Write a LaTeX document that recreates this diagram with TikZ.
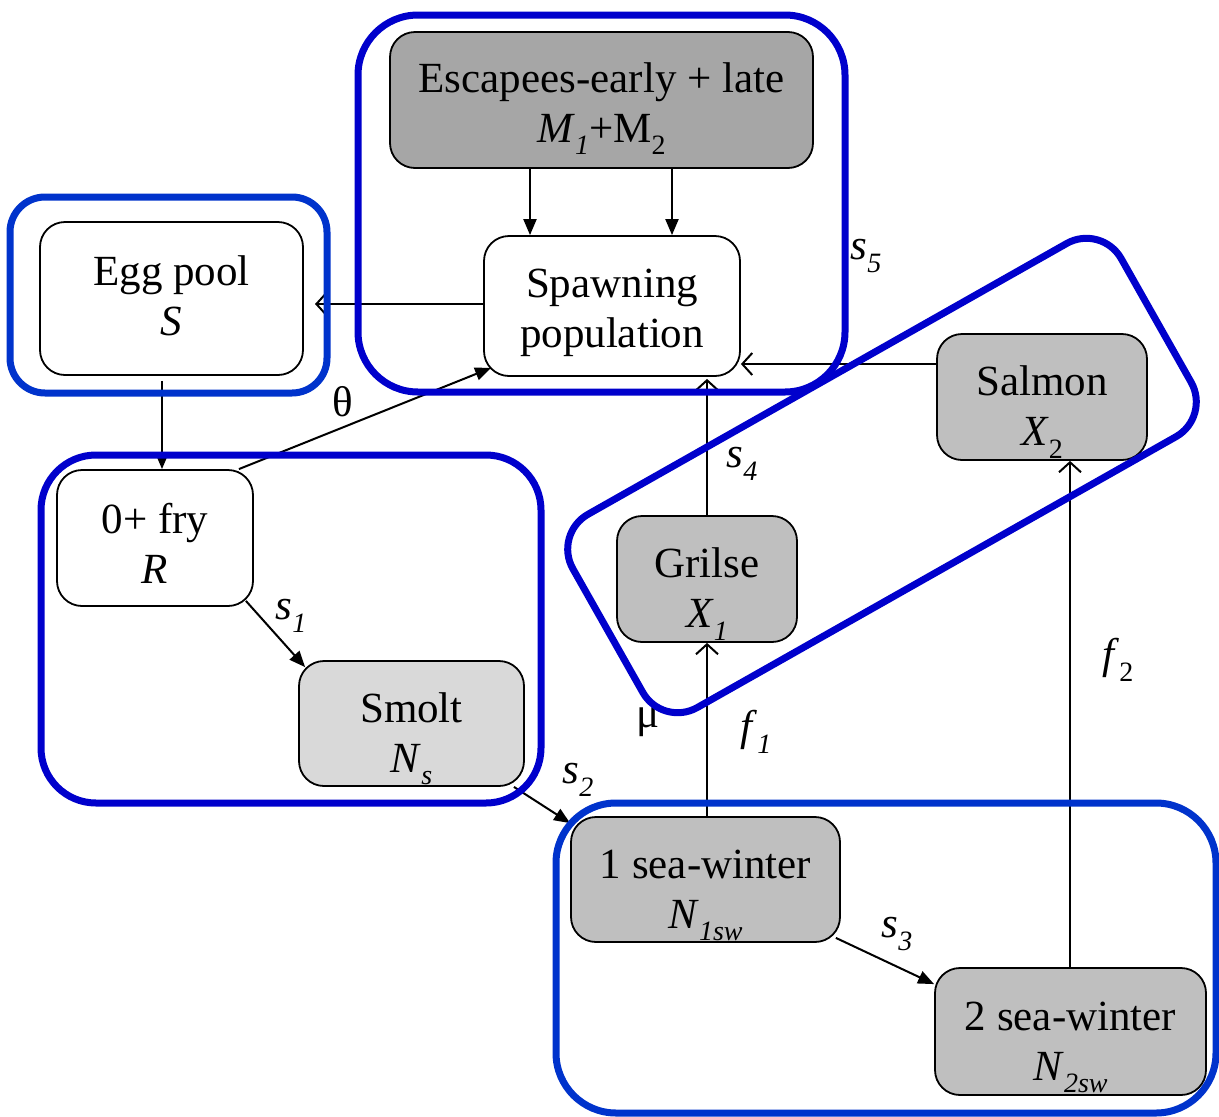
\documentclass[tikz,border=0pt]{standalone}
\usepackage{fontspec}
\setmainfont{Liberation Serif}
\usetikzlibrary{arrows.meta}
\definecolor{blueA}{RGB}{0,0,204}
\definecolor{blueB}{RGB}{0,51,204}
\definecolor{gDark}{RGB}{166,166,166}
\definecolor{gMid}{RGB}{191,191,191}
\definecolor{gLight}{RGB}{217,217,217}
\newcommand{\sbs}[1]{\raisebox{-0.3em}[0pt][0pt]{\fontsize{28}{28}\selectfont #1}}
\newcommand{\twol}[3]{\raisebox{#3}[0pt][0pt]{\begin{tabular}[b]{@{}c@{}}#1\\#2\end{tabular}}}
\begin{document}
\begin{tikzpicture}[x=1pt,y=-1pt,
  box/.style={draw=black, line width=1.8pt, rounded corners=25pt, inner sep=0pt, font=\fontsize{43}{50}\selectfont},
  grp/.style={line width=7pt},
  fillarr/.style={line width=2pt, -{Triangle[length=16pt,width=13pt]}},
  openarr/.style={line width=2pt, -{Straight Barb[length=10pt,width=22pt,line width=2pt]}},
  lbl/.style={font=\fontsize{43}{50}\selectfont, inner sep=0pt}
]
\useasboundingbox (0,0) rectangle (1219,1117);
\fill[white] (0,0) rectangle (1219,1117);

% nodes
\node[box, fill=gDark, minimum width=423pt, minimum height=136pt] (esc) at (601.5,100) {\twol{Escapees-early + late}{\textit{M}\sbs{\textit{1}}+M\sbs{2}}{-42pt}};
\node[box, fill=white, minimum width=256pt, minimum height=140pt] (spawn) at (612,306) {\twol{Spawning}{population}{-41pt}};
\node[box, fill=white, minimum width=263pt, minimum height=153pt] (egg) at (171.5,298.5) {\twol{Egg pool}{\textit{S}}{-36.5pt}};
\node[box, fill=white, minimum width=196pt, minimum height=136pt] (fry) at (155,538) {\twol{0+ fry}{\textit{R}}{-45pt}};
\node[box, fill=gLight, minimum width=225pt, minimum height=125pt] (smolt) at (411.5,723.5) {\twol{Smolt}{\textit{N}\sbs{\textit{s}}}{-48.5pt}};
\node[box, fill=gMid, minimum width=180pt, minimum height=126pt] (grilse) at (707,579) {\twol{Grilse}{\textit{X}\sbs{\textit{1}}}{-48.5pt}};
\node[box, fill=gMid, minimum width=210pt, minimum height=126pt] (salmon) at (1042,397) {\twol{Salmon}{\textit{X}\sbs{2}}{-48.5pt}};
\node[box, fill=gMid, minimum width=269pt, minimum height=125pt] (sw1) at (705.5,879.5) {\twol{1 sea-winter}{\textit{N}\sbs{\textit{1sw}}}{-48.5pt}};
\node[box, fill=gMid, minimum width=271pt, minimum height=127pt] (sw2) at (1070.5,1031.5) {\twol{2 sea-winter}{\textit{N}\sbs{\textit{2sw}}}{-48.5pt}};

% connectors
\draw[fillarr] (esc.south -| 530,0) -- (spawn.north -| 530,0);
\draw[fillarr] (esc.south -| 672,0) -- (spawn.north -| 672,0);
\coordinate (eggin) at (315,304);
\draw[openarr] (spawn.west |- eggin) -- (eggin);
\draw[fillarr] ([yshift=-5pt]egg.south -| 162,0) -- (fry.north -| 162,0);
\draw[fillarr] ([xshift=-15pt]fry.north east) -- ([xshift=8pt,yshift=9pt]spawn.south west);
\draw[fillarr] ([xshift=-8pt,yshift=6pt]fry.south east) -- ([xshift=7pt,yshift=-7pt]smolt.north west);
\draw[fillarr] ([xshift=-11pt]smolt.south east) -- ([yshift=-7pt]sw1.north west);
\draw[fillarr] ([xshift=-5pt,yshift=5pt]sw1.south east) -- ([yshift=-17pt]sw2.north west);
\draw[openarr] (sw1.north -| 707,0) -- (grilse.south -| 707,0);
\draw[openarr] (grilse.north -| 707,0) -- ([yshift=-2pt]spawn.south -| 707,0);
\draw[openarr] (salmon.west |- 0,364) -- (spawn.east |- 0,364);
\draw[openarr] (sw2.north -| 1070,0) -- (salmon.south -| 1070,0);

% labels
\node[lbl] (theta) at (343,402) {θ};
\node[lbl] (l1) at (291,610) {\textit{s}\sbs{\textit{1}}};
\node[lbl] (l2) at (578,774) {\textit{s}\sbs{\textit{2}}};
\node[lbl] (l3) at (897,928) {\textit{s}\sbs{\textit{3}}};
\node[lbl] (l4) at (742,458) {\textit{s}\sbs{\textit{4}}};
\node[lbl] (l5) at (866,250) {\textit{s}\sbs{\textit{5}}};
\node[lbl] (mu) at (648,722) {μ};
\node[lbl] (f1) at (756,730) {\textit{f}\sbs{\textit{1}}};
\node[lbl] (f2) at (1118,658) {\textit{f}\sbs{2}};

% groups
\draw[grp, draw=blueB, rounded corners=35pt] (10,197) rectangle (327,393);
\draw[grp, draw=blueA, rounded corners=60pt] (358,15) rectangle (845,392);
\draw[grp, draw=blueA, rounded corners=55pt] (41,455) rectangle (541,803);
\draw[grp, draw=blueB, rounded corners=60pt] (556,803) rectangle (1216,1113);
\node[grp, draw=blueA, rounded corners=40pt, minimum width=630pt, minimum height=222pt, rotate=29.5, inner sep=0pt] (rot) at (882,475.5) {};
\end{tikzpicture}
\end{document}
